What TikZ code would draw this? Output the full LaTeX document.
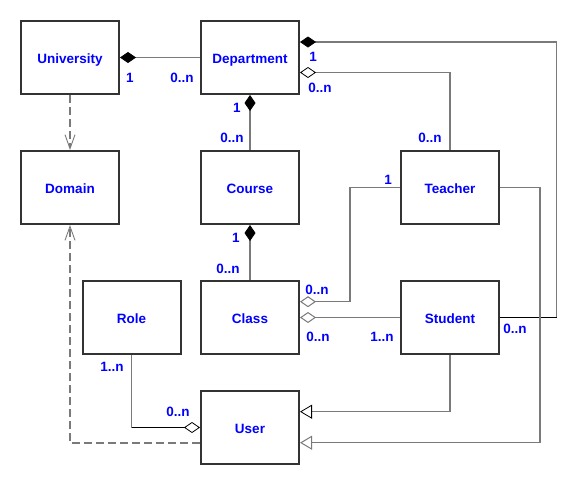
\documentclass[tikz,border=0pt]{standalone}
\usepackage{fontspec}
\setmainfont{Liberation Sans}
\usetikzlibrary{arrows.meta}
\definecolor{lgray}{HTML}{7A7A7A}
\definecolor{bord}{HTML}{333333}
\definecolor{tblue}{HTML}{0000FF}
\tikzset{
  cls/.style={draw=bord, line width=2pt, fill=white, minimum width=98pt, minimum height=73pt, inner sep=0pt, text height=12.3pt, text depth=0pt, text=tblue, font=\fontsize{13.5}{16}\selectfont\bfseries},
  lbl/.style={text=tblue, inner sep=0pt, font=\fontsize{13.5}{16}\selectfont\bfseries},
  conn/.style={draw=lgray, line width=1.2pt},
  blk/.style={draw=black, line width=1pt},
  fdia/.style={{Diamond[length=16pt,width=11pt,fill=black,color=black,line width=0.8pt]}-},
  odia/.style={{Diamond[length=16pt,width=11pt,fill=white,color=lgray,line width=1pt]}-},
  odiab/.style={{Diamond[length=16pt,width=11pt,fill=white,color=black,line width=0.8pt]}-},
  odiaend/.style={-{Diamond[length=16pt,width=11pt,fill=white,color=black,line width=0.8pt]}},
  gen/.style={-{Triangle[length=12pt,width=14pt,fill=white,color=lgray,line width=1pt]}},
  genb/.style={-{Triangle[length=12pt,width=14pt,fill=white,color=black,line width=0.8pt]}},
  dep/.style={line width=1.6pt, dash pattern=on 8pt off 4pt, -{Straight Barb[length=14pt,width=10pt,line width=0.9pt]}}
}
\begin{document}
\begin{tikzpicture}[x=1pt,y=-1pt]
\useasboundingbox[fill=white] (0,0) rectangle (581,485);
% classes
\node[cls] (univ) at (70,57.5) {University};
\node[cls] (dept) at (250,57.5) {Department};
\node[cls] (domain) at (70,187.5) {Domain};
\node[cls] (course) at (250,187.5) {Course};
\node[cls] (teacher) at (450,187.5) {Teacher};
\node[cls] (role) at (131.5,317.5) {Role};
\node[cls] (class) at (250,317.5) {Class};
\node[cls] (student) at (450,317.5) {Student};
\node[cls] (user) at (250,427.5) {User};
% helper coordinates
\coordinate (dr) at (556.5,42);
\coordinate (dsb) at (556.5,317.5);
\coordinate (tc) at (350,301.7);
\coordinate (tr) at (540,442.7);
\coordinate (rb) at (131.5,427.5);
% connectors
\draw[conn,fdia] (univ.east) -- (dept.west);
\draw[conn,fdia] ([yshift=15.5pt]dept.east) -- (dr) -- (dsb);
\draw[blk] (dsb) -- (student.east);
\draw[conn,odiab] ([yshift=-15pt]dept.east) -| (teacher.north);
\draw[conn,fdia] (dept.south) -- (course.north);
\draw[conn,fdia] (course.south) -- (class.north);
\draw[conn,odia] ([yshift=15.8pt]class.east) -- (tc) |- (teacher.west);
\draw[conn,odia] (class.east) -- (student.west);
\draw[conn,gen] (teacher.east) -| (tr) -- ([yshift=-15.2pt]user.east);
\draw[conn,genb] (student.south) |- ([yshift=15.8pt]user.east);
\draw[conn] (role.south) -- (rb);
\draw[blk,odiaend] (rb) -- (user.west);
\draw[conn,dep] (univ.south) -- (domain.north);
\draw[conn,dep] ([yshift=-15.2pt]user.west) -| (domain.south);
% multiplicities
\node[lbl] (m1) at (130,78) {1};
\node[lbl] (m2) at (182,78) {0..n};
\node[lbl] (m3) at (313,57) {1};
\node[lbl] (m4) at (320,88) {0..n};
\node[lbl] (m5) at (430,138) {0..n};
\node[lbl] (m6) at (237,108) {1};
\node[lbl] (m7) at (232,138) {0..n};
\node[lbl] (m8) at (236,238) {1};
\node[lbl] (m9) at (228,269) {0..n};
\node[lbl] (m10) at (388,180) {1};
\node[lbl] (m11) at (317,290) {0..n};
\node[lbl] (m12) at (318,337) {0..n};
\node[lbl] (m13) at (382,337) {1..n};
\node[lbl] (m14) at (515,329) {0..n};
\node[lbl] (m15) at (112,367) {1..n};
\node[lbl] (m16) at (178,412) {0..n};
\end{tikzpicture}
\end{document}
